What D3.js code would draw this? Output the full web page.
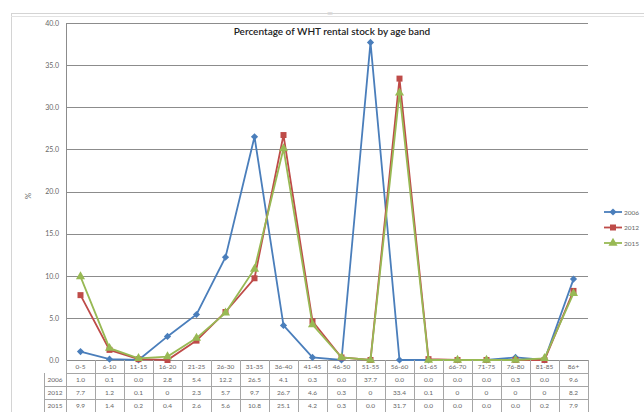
<!DOCTYPE html>
<html>
<head>
<meta charset="utf-8">
<script src="https://cdn.jsdelivr.net/npm/d3@7/dist/d3.min.js"></script>
<style>
  body { margin: 0; background: #fff; }
  svg { display: block; font-family: Lato, "Open Sans", sans-serif; }
</style>
</head>
<body>
<svg id="chart" width="644" height="412"></svg>
<script>
const bands = ["0-5", "6-10", "11-15", "16-20", "21-25", "26-30", "31-35", "36-40", "41-45",
  "46-50", "51-55", "56-60", "61-65", "66-70", "71-75", "76-80", "81-85", "86+"];
const years = ["2006", "2012", "2015"];
const v2006 = [1.0, 0.1, 0.0, 2.8, 5.4, 12.2, 26.5, 4.1, 0.3, 0.0, 37.7, 0.0, 0.0, 0.0, 0.0, 0.3, 0.0, 9.6];
const v2012 = [7.7, 1.2, 0.1, 0, 2.3, 5.7, 9.7, 26.7, 4.6, 0.3, 0, 33.4, 0.1, 0, 0, 0, 0, 8.2];
const v2015 = [9.9, 1.4, 0.2, 0.4, 2.6, 5.6, 10.8, 25.1, 4.2, 0.3, 0.0, 31.7, 0.0, 0.0, 0.0, 0.0, 0.2, 7.9];
// how each value is printed in the table (2012 prints whole zeros as "0")
const t2006 = ["1.0", "0.1", "0.0", "2.8", "5.4", "12.2", "26.5", "4.1", "0.3", "0.0", "37.7", "0.0", "0.0", "0.0", "0.0", "0.3", "0.0", "9.6"];
const t2012 = ["7.7", "1.2", "0.1", "0", "2.3", "5.7", "9.7", "26.7", "4.6", "0.3", "0", "33.4", "0.1", "0", "0", "0", "0", "8.2"];
const t2015 = ["9.9", "1.4", "0.2", "0.4", "2.6", "5.6", "10.8", "25.1", "4.2", "0.3", "0.0", "31.7", "0.0", "0.0", "0.0", "0.0", "0.2", "7.9"];
const yTicks = [0, 5, 10, 15, 20, 25, 30, 35, 40];

const series = [
  {name: years[0], values: v2006, text: t2006, color: "#4a7ebb", shape: d3.symbolSquare, size: 26, rot: 45},
  {name: years[1], values: v2012, text: t2012, color: "#be4b48", shape: d3.symbolSquare, size: 36, rot: 0},
  {name: years[2], values: v2015, text: t2015, color: "#98b954", shape: d3.symbolTriangle, size: 36, rot: 0}
];

const svg = d3.select("#chart");
const plotL = 66, plotR = 588, plotT = 23, plotB = 360;
const rowH = 13;

// window frame round the chart
svg.append("rect").attr("x", 11.5).attr("y", 13.5).attr("width", 640).attr("height", 410)
  .attr("fill", "none").attr("stroke", "#d4d4d4");
svg.append("line").attr("x1", 11).attr("x2", 644).attr("y1", 16.5).attr("y2", 16.5)
  .attr("stroke", "#e2e2e2");
svg.append("text").attr("x", 330).attr("y", 15).attr("text-anchor", "middle")
  .attr("font-size", 5).attr("fill", "#aaa").text("::::");

const x = d3.scaleBand().domain(bands).range([plotL, plotR]);
const y = d3.scaleLinear().domain([0, 40]).range([plotB, plotT]);

// gridlines
svg.append("g").selectAll("line").data(yTicks).join("line")
  .attr("x1", plotL).attr("x2", plotR)
  .attr("y1", d => Math.round(y(d)) + 0.5).attr("y2", d => Math.round(y(d)) + 0.5)
  .attr("stroke", "#8c8c8c").attr("stroke-width", 1);
svg.append("line").attr("x1", plotL + 0.5).attr("x2", plotL + 0.5).attr("y1", plotT).attr("y2", plotB)
  .attr("stroke", "#8c8c8c");

const yAxis = svg.append("g").attr("transform", `translate(${plotL},0)`)
  .call(d3.axisLeft(y).tickValues(yTicks).tickSize(0).tickPadding(7).tickFormat(d3.format(".1f")));
yAxis.select(".domain").remove();
yAxis.selectAll("text").attr("font-size", 7).attr("fill", "#666").attr("font-family", "Lato, sans-serif");

svg.append("text").attr("transform", "translate(31,196) rotate(-90)").attr("text-anchor", "middle")
  .attr("font-size", 8).attr("fill", "#666").text("%");

svg.append("text").attr("x", 332).attr("y", 35).attr("text-anchor", "middle")
  .attr("font-size", 10).attr("font-weight", 600).attr("fill", "#222")
  .text("Percentage of WHT rental stock by age band");

// lines and markers
const cx = d => x(d) + x.bandwidth() / 2;
const line = d3.line().x((d, i) => cx(bands[i])).y(d => y(d));
series.forEach(s => {
  svg.append("path").datum(s.values).attr("d", line)
    .attr("fill", "none").attr("stroke", s.color).attr("stroke-width", 1.8);
  svg.append("g").selectAll("path").data(s.values).join("path")
    .attr("transform", (d, i) => `translate(${cx(bands[i])},${y(d)}) rotate(${s.rot})`)
    .attr("d", d3.symbol().type(s.shape).size(s.size))
    .attr("fill", s.color);
});

// data table under the plot
const tbl = svg.append("g").attr("font-size", 6.5).attr("fill", "#666").attr("text-anchor", "middle");
const tableLeft = 44;
const nRows = series.length + 1;
tbl.append("g").selectAll("line").data(d3.range(1, nRows + 1)).join("line")
  .attr("x1", d => d === 1 ? plotL : tableLeft).attr("x2", plotR)
  .attr("y1", d => plotB + d * rowH + 0.5).attr("y2", d => plotB + d * rowH + 0.5)
  .attr("stroke", "#a6a6a6");
tbl.append("g").selectAll("line").data(bands.concat(["end"])).join("line")
  .attr("x1", (d, i) => Math.round(plotL + i * x.bandwidth()) + 0.5)
  .attr("x2", (d, i) => Math.round(plotL + i * x.bandwidth()) + 0.5)
  .attr("y1", plotB).attr("y2", plotB + nRows * rowH)
  .attr("stroke", "#a6a6a6");
tbl.append("line").attr("x1", tableLeft + 0.5).attr("x2", tableLeft + 0.5)
  .attr("y1", plotB + rowH).attr("y2", plotB + nRows * rowH).attr("stroke", "#a6a6a6");
tbl.append("g").selectAll("text").data(bands).join("text")
  .attr("x", d => cx(d)).attr("y", plotB + 9).text(d => d);
series.forEach((s, r) => {
  const yy = plotB + (r + 1) * rowH + 9;
  tbl.append("text").attr("x", tableLeft + 11).attr("y", yy).text(s.name);
  tbl.append("g").selectAll("text").data(s.text).join("text")
    .attr("x", (d, i) => cx(bands[i])).attr("y", yy).text(d => d);
});

// legend
const legend = svg.append("g").attr("transform", "translate(604,212)");
series.forEach((s, i) => {
  const g = legend.append("g").attr("transform", `translate(0,${i * 15.5})`);
  g.append("line").attr("x1", 0).attr("x2", 18).attr("stroke", s.color).attr("stroke-width", 1.8);
  g.append("path").attr("transform", `translate(9,0) rotate(${s.rot})`)
    .attr("d", d3.symbol().type(s.shape).size(s.size)).attr("fill", s.color);
  g.append("text").attr("x", 20).attr("y", 2.5).attr("font-size", 6.5).attr("fill", "#666").text(s.name);
});
</script>
</body>
</html>
